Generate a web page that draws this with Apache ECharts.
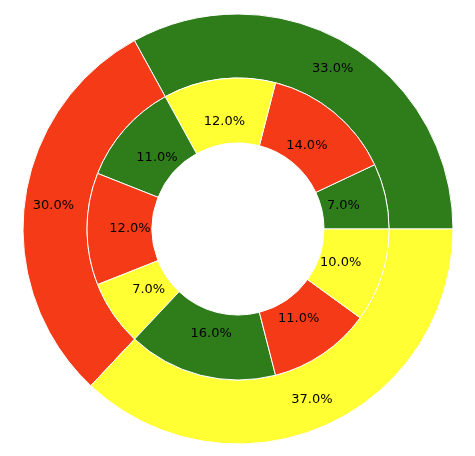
<!DOCTYPE html>
<html>
<head>
<meta charset="utf-8">
<script src="https://cdn.jsdelivr.net/npm/echarts@6/dist/echarts.min.js"></script>
<style>
  html, body { margin: 0; padding: 0; background: #fff; }
  #chart { width: 475px; height: 456px; }
</style>
</head>
<body>
<div id="chart"></div>
<script>
// outer ring (starts at 3 o'clock, counterclockwise)
var outerValues = [33, 30, 37];
var outerColors = ["#2e7d1a", "#f53a17", "#ffff33"];
// inner ring
var innerValues = [7, 14, 12, 11, 12, 7, 16, 11, 10];
var innerColors = ["#2e7d1a", "#f53a17", "#ffff33", "#2e7d1a", "#f53a17",
  "#ffff33", "#2e7d1a", "#f53a17", "#ffff33"];

var pctLabel = function (p) {
  return p.value.toFixed(1) + "%";
};

function toData(values, colors) {
  return values.map(function (v, i) {
    return { value: v, itemStyle: { color: colors[i] } };
  });
}

var chart = echarts.init(document.getElementById("chart"));
var center = [238, 229];
var option = {
  animation: false,
  textStyle: { fontFamily: "DejaVu Sans" },
  series: [
    {
      type: "pie",
      center: center,
      radius: [151, 215],
      startAngle: 0,
      clockwise: false,
      silent: true,
      itemStyle: { borderColor: "#fff", borderWidth: 1 },
      label: {
        position: "inside",
        formatter: pctLabel,
        color: "#000",
        fontSize: 13,
        fontFamily: "DejaVu Sans",
      },
      data: toData(outerValues, outerColors),
    },
    {
      type: "pie",
      center: center,
      radius: [86, 151],
      startAngle: 0,
      clockwise: false,
      silent: true,
      itemStyle: { borderColor: "#fff", borderWidth: 1 },
      label: { show: false },
      data: toData(innerValues, innerColors),
    },
    {
      // labels for the inner ring, placed a bit closer to the hole
      type: "pie",
      center: center,
      radius: [60, 150],
      startAngle: 0,
      clockwise: false,
      silent: true,
      z: 5,
      itemStyle: { color: "rgba(0,0,0,0)", borderWidth: 0 },
      label: {
        position: "inside",
        formatter: pctLabel,
        color: "#000",
        fontSize: 13,
        fontFamily: "DejaVu Sans",
      },
      data: innerValues.map(function (v) { return { value: v }; }),
    },
  ],
};
chart.setOption(option);
</script>
</body>
</html>
